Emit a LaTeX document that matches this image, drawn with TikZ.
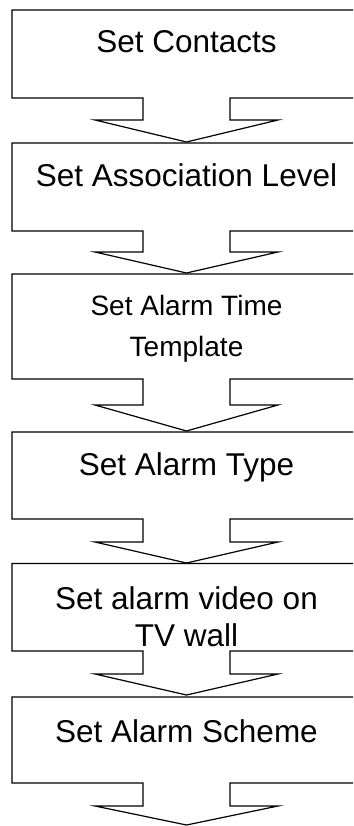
\documentclass[tikz,border=0pt]{standalone}
\usepackage{fontspec}
\setmainfont{Liberation Sans}
\tikzset{
  flowshape/.style={draw=black, line width=1.2pt, line join=miter, fill=white},
  lbl/.style={font=\fontsize{31.5}{37.7}\selectfont, inner sep=0pt, anchor=base, align=center},
  lblsmall/.style={lbl, font=\fontsize{28}{41.7}\selectfont}
}
% #1 top, #2 box bottom, #3 wing line, #4 arrow tip
\newcommand\flowblock[4]{%
  \draw[flowshape] (361,#1) -- (12,#1) -- (12,#2) -- (143,#2) -- (143,#3) -- (95,#3)
    -- (186.5,#4) -- (278,#3) -- (230,#3) -- (230,#2) -- (361,#2) -- cycle;}
\begin{document}
\begin{tikzpicture}[x=1pt,y=-1pt]
\useasboundingbox (0,0) rectangle (353,826);
\clip (0,0) rectangle (353,826);
\flowblock{10}{98}{120}{142}
\flowblock{143}{231}{252}{273}
\flowblock{274}{379}{405}{431}
\flowblock{432}{519}{542}{563}
\flowblock{563.5}{651}{674}{695}
\flowblock{697}{783}{806}{825}
\node[lbl] (n1) at (186.5,53) {Set Contacts};
\node[lbl] (n2) at (186.5,187) {Set Association Level};
\node[lblsmall] (n3) at (186.5,356.7) {Set Alarm Time\\Template};
\node[lbl] (n4) at (186.5,475) {Set Alarm Type};
\node[lbl] (n5) at (186.5,646.7) {Set alarm video on\\TV wall};
\node[lbl] (n6) at (186.5,742) {Set Alarm Scheme};
\end{tikzpicture}
\end{document}
